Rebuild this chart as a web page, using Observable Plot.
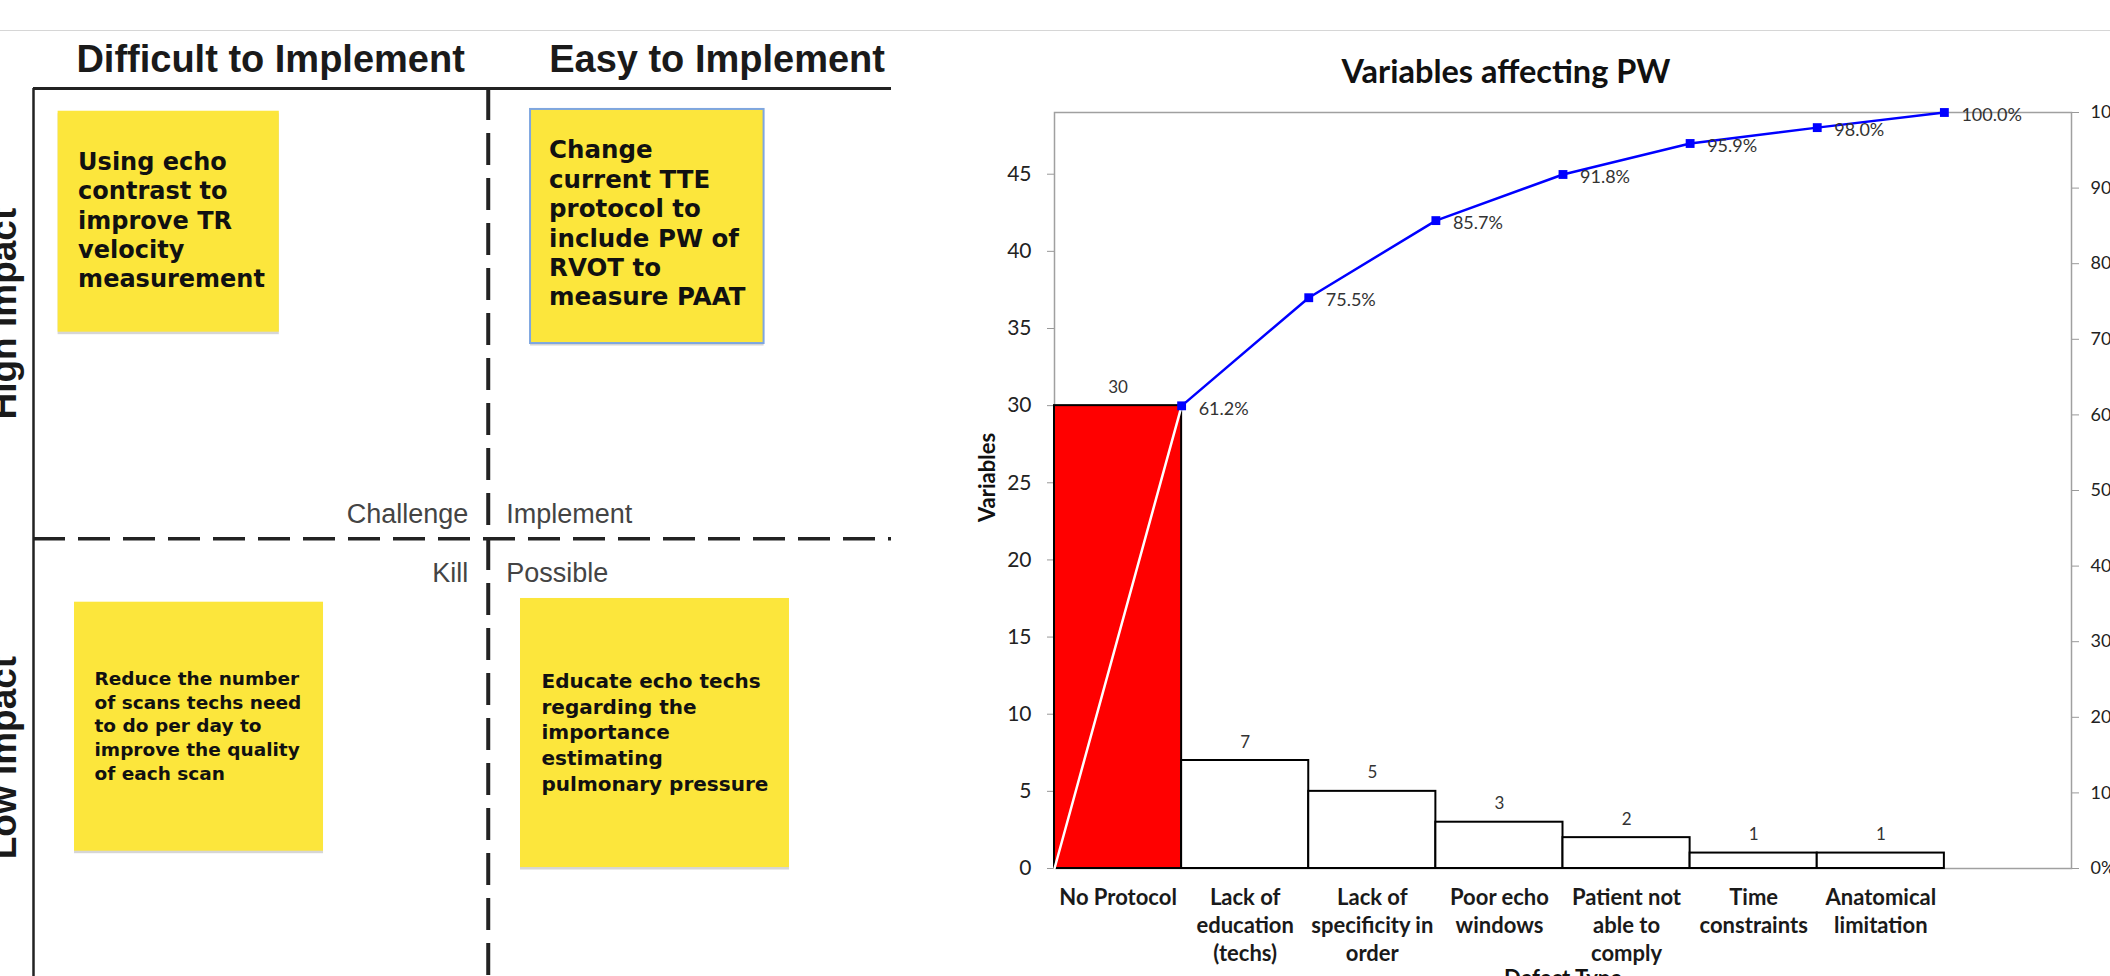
<!DOCTYPE html>
<html><head><meta charset="utf-8">
<script src="https://cdn.jsdelivr.net/npm/d3@7"></script>
<script src="https://cdn.jsdelivr.net/npm/@observablehq/plot@0.6"></script>
<style>
html,body{margin:0;padding:0;background:#fff;}
body{width:2110px;height:976px;overflow:hidden;position:relative;}
#sep{position:absolute;left:0;top:30px;width:2110px;height:0;border-top:1.5px solid #d6d6d6;}
#left{position:absolute;left:0;top:0;}
#right{position:absolute;left:950px;top:0;}
</style></head><body>
<div id="sep"></div>
<div id="left"></div>
<div id="right"></div>
<script>
// ===== Pareto chart data =====
const categories = ["No Protocol", "Lack of\neducation\n(techs)", "Lack of\nspecificity in\norder", "Poor echo\nwindows", "Patient not\nable to\ncomply", "Time\nconstraints", "Anatomical\nlimitation"];
const counts = [30, 7, 5, 3, 2, 1, 1];
const cumulativePct = [61.2, 75.5, 85.7, 91.8, 95.9, 98.0, 100.0];
const cumulativeLabels = ["61.2%", "75.5%", "85.7%", "91.8%", "95.9%", "98.0%", "100.0%"];
const leftTicks = [0, 5, 10, 15, 20, 25, 30, 35, 40, 45];
const rightTickPct = [0, 10, 20, 30, 40, 50, 60, 70, 80, 90, 100];
const rightTickLabels = ["0%", "10%", "20%", "30%", "40%", "50%", "60%", "70%", "80%", "90%", "100%"];
const countMax = 49;
const chartTitle = "Variables affecting PW";
const yTitle = "Variables";
const xTitle = "Defect Type";

// ===== Impact / effort matrix data =====
const columnHeaders = ["Difficult to Implement", "Easy to Implement"];
const rowHeaders = ["High Impact", "Low Impact"];
const quadrantLabels = [
  {text: "Challenge", side: "left", row: "above"},
  {text: "Implement", side: "right", row: "above"},
  {text: "Kill", side: "left", row: "below"},
  {text: "Possible", side: "right", row: "below"}
];
const noteTexts = [
  "Using echo\ncontrast to\nimprove TR\nvelocity\nmeasurement",
  "Change\ncurrent TTE\nprotocol to\ninclude PW of\nRVOT to\nmeasure PAAT",
  "Reduce the number\nof scans techs need\nto do per day to\nimprove the quality\nof each scan",
  "Educate echo techs\nregarding the\nimportance\nestimating\npulmonary pressure"
];

// ===== layout (matrix grid units 0..100) =====
const divX = 53.0, divY = 50.7;
const headerX = [5.0, 60.1];
const noteBoxes = [
  {x1: 2.87, x2: 28.65, y1: 2.56, y2: 27.44, padX: 20, padY: 38, size: 24, lh: 1.22, border: false},
  {x1: 57.93, x2: 85.15, y1: 2.36, y2: 28.72, padX: 18.5, padY: 28, size: 24.5, lh: 1.2, border: true},
  {x1: 4.78, x2: 33.80, y1: 57.85, y2: 85.89, padX: 20, padY: 66, size: 18.5, lh: 1.28, border: false},
  {x1: 56.76, x2: 88.11, y1: 57.43, y2: 87.73, padX: 21, padY: 71, size: 20, lh: 1.29, border: false}
];

// ---------- Left: matrix ----------
const yellow = "#FCE63C";
const leftMarks = [];
noteTexts.forEach((t, i) => {
  const b = noteBoxes[i];
  const d = [{t, ...b}];
  leftMarks.push(Plot.rect(d, {x1: "x1", x2: "x2", y1: "y1", y2: "y2", fill: "#b5b5b5", fillOpacity: 0.55, dy: 2.5}));
  leftMarks.push(Plot.rect(d, {x1: "x1", x2: "x2", y1: "y1", y2: "y2", fill: yellow,
    stroke: b.border ? "#7EA6E0" : "none", strokeWidth: 2}));
  leftMarks.push(Plot.text(d, {x: "x1", y: "y1", text: "t", dx: b.padX, dy: b.padY,
    textAnchor: "start", lineAnchor: "top", fontSize: b.size, lineHeight: b.lh,
    fontWeight: "bold", fontFamily: "DejaVu Sans", fill: "#111"}));
});

quadrantLabels.forEach(q => {
  leftMarks.push(Plot.text([q], {x: () => divX, y: () => divY, text: "text",
    textAnchor: q.side === "left" ? "end" : "start",
    dx: q.side === "left" ? -20 : 18,
    dy: q.row === "above" ? -15.5 : 43,
    lineAnchor: "bottom", fontSize: 27, fill: "#444", fontFamily: "Liberation Sans"}));
});

const leftPlot = Plot.plot({
  width: 950, height: 976,
  marginLeft: 33, marginRight: 59, marginTop: 88, marginBottom: 0,
  x: {domain: [0, 100], axis: null},
  y: {domain: [0, 100], reverse: true, axis: null},
  style: {fontFamily: "Liberation Sans", background: "transparent", overflow: "visible"},
  marks: [
    Plot.ruleX([divX], {y1: 0, y2: 100, stroke: "#222", strokeWidth: 4, strokeDasharray: "32,13"}),
    Plot.ruleY([divY], {x1: 0, x2: 100, stroke: "#222", strokeWidth: 3.5, strokeDasharray: "32,13"}),
    Plot.ruleY([0], {x1: 0, x2: 100, stroke: "#222", strokeWidth: 3}),
    Plot.ruleX([0], {y1: 0, y2: 100, stroke: "#222", strokeWidth: 2.5}),
    ...leftMarks,
    Plot.text(columnHeaders, {x: (d, i) => headerX[i], frameAnchor: "top", text: d => d, dy: -17,
      lineAnchor: "bottom", textAnchor: "start", fontSize: 38, fontWeight: "bold", fill: "#1a1a1a"}),
    Plot.text(rowHeaders, {y: (d, i) => i === 0 ? divY / 2 : (divY + 100) / 2, frameAnchor: "left", text: d => d,
      dx: -18, rotate: -90, textAnchor: "middle", lineAnchor: "bottom", fontSize: 37, fontWeight: "bold", fill: "#1a1a1a"})
  ]
});
document.getElementById("left").append(leftPlot);

// ---------- Right: Pareto ----------
const bars = categories.map((c, i) => ({cat: c, i, count: counts[i]}));
const cumPts = [{x: 0, p: 0, label: ""}].concat(cumulativePct.map((p, i) => ({x: i + 1, p, label: cumulativeLabels[i]})));
const toY = p => p * countMax / 100;
const rightTickVals = rightTickPct.map(toY);

const rightPlot = Plot.plot({
  width: 1160, height: 976,
  marginLeft: 104, marginRight: 39, marginTop: 112, marginBottom: 108,
  x: {domain: [0, 8], axis: null},
  y: {domain: [0, countMax], axis: null},
  style: {fontFamily: "Lato", background: "transparent", overflow: "visible"},
  marks: [
    Plot.frame({stroke: "#a0a0a0", strokeWidth: 1.5}),
    Plot.axisY({anchor: "left", ticks: leftTicks, tickSize: 7, tickPadding: 16, stroke: "#999", fill: "#222",
      fontSize: 21, fontFamily: "Lato", label: null, tickFormat: d => String(d)}),
    Plot.axisY({anchor: "right", ticks: rightTickVals, tickSize: 7, tickPadding: 12, stroke: "#999", fill: "#222",
      fontSize: 18, fontFamily: "Lato", label: null, tickFormat: d => rightTickLabels[rightTickVals.indexOf(d)]}),
    Plot.rectY(bars.filter(d => d.i === 0), {x1: "i", x2: d => d.i + 1, y1: 0, y2: "count", fill: "#FF0000", stroke: "#000", strokeWidth: 2}),
    Plot.rectY(bars.filter(d => d.i > 0), {x1: "i", x2: d => d.i + 1, y1: 0, y2: "count", fill: "#fff", stroke: "#000", strokeWidth: 2}),
    Plot.line(cumPts.slice(0, 2), {x: "x", y: d => toY(d.p), stroke: "#fff", strokeWidth: 2.5}),
    Plot.line(cumPts.slice(1), {x: "x", y: d => toY(d.p), stroke: "#0000FF", strokeWidth: 2.5}),
    Plot.dot(cumPts.slice(1), {x: "x", y: d => toY(d.p), symbol: "square", r: 5, fill: "#0000FF"}),
    Plot.text(cumPts.slice(1), {x: "x", y: d => toY(d.p), text: "label", textAnchor: "start", dx: 17, dy: 3,
      fontSize: 18, fill: "#333"}),
    Plot.text(bars, {x: d => d.i + 0.5, y: "count", text: d => String(d.count), dy: -13, lineAnchor: "bottom",
      fontSize: 17, fill: "#333"}),
    Plot.text(bars, {x: d => d.i + 0.5, frameAnchor: "bottom", text: "cat", lineAnchor: "top", dy: 16,
      fontSize: 22, fontWeight: "bold", lineHeight: 1.29, fill: "#1a1a1a"}),
    Plot.text([chartTitle], {frameAnchor: "top", text: d => d, dx: -57, dy: -30, lineAnchor: "bottom",
      fontSize: 32.5, fontWeight: "bold", fill: "#111"}),
    Plot.text([yTitle], {frameAnchor: "left", text: d => d, dx: -60, dy: -13, rotate: -90, textAnchor: "middle", lineAnchor: "bottom",
      fontSize: 22, fontWeight: "bold", fill: "#111"}),
    Plot.text([xTitle], {frameAnchor: "bottom", text: d => d, dy: 117, lineAnchor: "bottom",
      fontSize: 22, fontWeight: "bold", fill: "#111"})
  ]
});
document.getElementById("right").append(rightPlot);
</script>
</body></html>
